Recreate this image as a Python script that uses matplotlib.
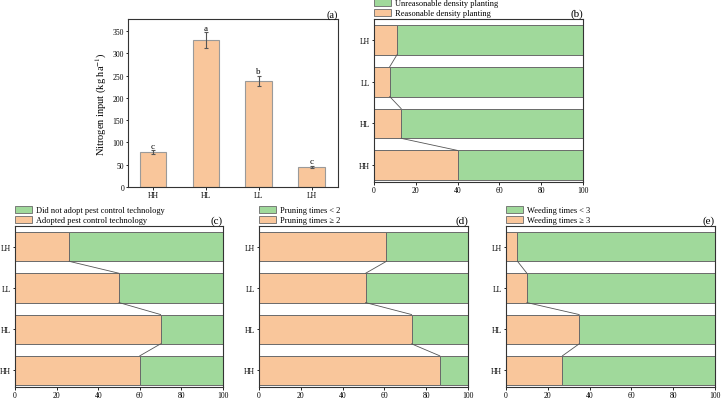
import matplotlib
matplotlib.use("Agg")
import matplotlib.pyplot as plt
from matplotlib.patches import Patch

plt.rcParams['font.family'] = ['Liberation Serif', 'DejaVu Serif']
plt.rcParams['mathtext.fontset'] = 'stix'

ORANGE = '#F9C69B'
GREEN = '#A0D99B'
EDGE = '#6a6a6a'

# Panel (a)
groups_a = ['HH', 'HL', 'LL', 'LH']
nitrogen = [78, 330, 238, 45]
nitrogen_err = [5, 17, 12, 3]
letters = ['c', 'a', 'b', 'c']

# Stacked panels: categories bottom-to-top
cats = ['HH', 'HL', 'LL', 'LH']
density = [40, 13, 7.5, 11]
pest = [60, 70, 50, 26]
pruning = [86.5, 73, 51, 61]
weeding = [27, 35, 10, 5.5]

fig = plt.figure(figsize=(7.21, 4.06), dpi=100)
W, H = 721, 406

def ax_px(l, t, r, b):
    return fig.add_axes([l / W, 1 - b / H, (r - l) / W, (b - t) / H])

FS = 5.5

# ---- (a)
axa = ax_px(128, 20, 338, 188)
x = range(len(groups_a))
axa.bar(x, nitrogen, width=0.5, color=ORANGE, edgecolor='#9a9a9a', linewidth=0.8,
        yerr=nitrogen_err, error_kw=dict(ecolor='#555555', elinewidth=0.8, capsize=1.5, capthick=0.8))
for i, (v, e, l) in enumerate(zip(nitrogen, nitrogen_err, letters)):
    axa.text(i, v + e + 1, l, ha='center', va='bottom', fontsize=6.5)
axa.set_xlim(-0.47, 3.5)
axa.set_ylim(0, 377)
axa.set_xticks(list(x))
axa.set_xticklabels(groups_a)
axa.set_yticks(range(0, 351, 50))
axa.set_ylabel('Nitrogen input (kg ha$^{-1}$)', fontsize=7.5, labelpad=3)
axa.text(1.0, 1.0, '(a)', transform=axa.transAxes, ha='right', va='bottom', fontsize=7.5)

def stacked(ax, vals, lab_lo, lab_hi, tag):
    y = list(range(len(cats)))
    h = 0.71
    ax.barh(y, vals, height=h, color=ORANGE, edgecolor=EDGE, linewidth=0.7, zorder=2)
    rest = [100 - v for v in vals]
    ax.barh(y, rest, left=vals, height=h, color=GREEN, edgecolor=EDGE, linewidth=0.7, zorder=2)
    for i in range(len(cats) - 1):
        ax.plot([vals[i], vals[i + 1]], [i + h / 2, i + 1 - h / 2], color='#555555', lw=0.6, zorder=3)
    ax.set_xlim(0, 100)
    ax.set_ylim(-0.4, 3.5)
    ax.set_xticks(range(0, 101, 20))
    ax.set_yticks(y)
    ax.set_yticklabels(cats)
    ax.text(1.0, 1.005, tag, transform=ax.transAxes, ha='right', va='bottom', fontsize=8)
    handles = [Patch(facecolor=GREEN, edgecolor=EDGE, linewidth=0.6, label=lab_hi),
               Patch(facecolor=ORANGE, edgecolor=EDGE, linewidth=0.6, label=lab_lo)]
    ax.legend(handles=handles, loc='lower left', bbox_to_anchor=(0.0, 1.01), frameon=False,
              fontsize=6, handlelength=2.0, handleheight=1.05, labelspacing=0.15,
              borderaxespad=0, borderpad=0.0, handletextpad=0.5)

axb = ax_px(374, 20, 583, 183)
stacked(axb, density, 'Reasonable density planting', 'Unreasonable density planting', '(b)')
axc = ax_px(15, 227, 223, 388)
stacked(axc, pest, 'Adopted pest control technology', 'Did not adopt pest control technology', '(c)')
axd = ax_px(259, 227, 468, 388)
stacked(axd, pruning, 'Pruning times \u2265 2', 'Pruning times < 2', '(d)')
axe = ax_px(506, 227, 715, 388)
stacked(axe, weeding, 'Weeding times \u2265 3', 'Weeding times < 3', '(e)')

for ax in [axa, axb, axc, axd, axe]:
    ax.tick_params(labelsize=FS, length=1.8, width=0.6, pad=1.0)
    for s in ax.spines.values():
        s.set_linewidth(0.8)
        s.set_color('#333333')

fig.savefig('out.png', dpi=100)
